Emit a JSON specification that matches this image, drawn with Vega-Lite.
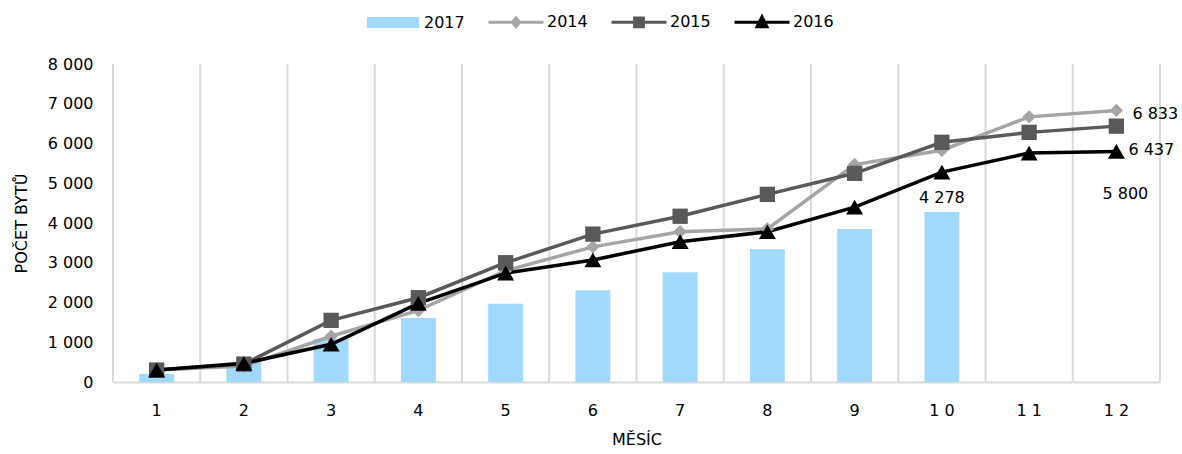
{
  "$schema": "https://vega.github.io/schema/vega-lite/v6.json",
  "width": 1047,
  "height": 318,
  "autosize": {"type": "none"},
  "padding": {"left": 113, "top": 64, "right": 22, "bottom": 72},
  "config": {
    "view": {"stroke": null},
    "font": "DejaVu Sans",
    "locale": {"number": {"decimal": ",", "thousands": " ", "grouping": [3], "currency": ["", " Kč"]}},
    "axisY": {
      "grid": false, "ticks": false, "domain": false,
      "values": [0, 1000, 2000, 3000, 4000, 5000, 6000, 7000, 8000],
      "format": ",d", "labelOverlap": false,
      "labelPadding": 20, "labelFontSize": 16, "labelColor": "#000",
      "titleFontSize": 16, "titleFontWeight": "normal", "titleColor": "#000", "titlePadding": 18
    }
  },
  "data": {
    "values": [
      {"month": 1, "series": "2017", "value": 200},
      {"month": 2, "series": "2017", "value": 500},
      {"month": 3, "series": "2017", "value": 1080},
      {"month": 4, "series": "2017", "value": 1610},
      {"month": 5, "series": "2017", "value": 1970},
      {"month": 6, "series": "2017", "value": 2310},
      {"month": 7, "series": "2017", "value": 2760},
      {"month": 8, "series": "2017", "value": 3340},
      {"month": 9, "series": "2017", "value": 3850},
      {"month": 10, "series": "2017", "value": 4278},
      {"month": 1, "series": "2014", "value": 300},
      {"month": 2, "series": "2014", "value": 400},
      {"month": 3, "series": "2014", "value": 1150},
      {"month": 4, "series": "2014", "value": 1800},
      {"month": 5, "series": "2014", "value": 2800},
      {"month": 6, "series": "2014", "value": 3400},
      {"month": 7, "series": "2014", "value": 3780},
      {"month": 8, "series": "2014", "value": 3850},
      {"month": 9, "series": "2014", "value": 5470},
      {"month": 10, "series": "2014", "value": 5830},
      {"month": 11, "series": "2014", "value": 6670},
      {"month": 12, "series": "2014", "value": 6833},
      {"month": 1, "series": "2015", "value": 300},
      {"month": 2, "series": "2015", "value": 450},
      {"month": 3, "series": "2015", "value": 1550},
      {"month": 4, "series": "2015", "value": 2120},
      {"month": 5, "series": "2015", "value": 3000},
      {"month": 6, "series": "2015", "value": 3720},
      {"month": 7, "series": "2015", "value": 4170},
      {"month": 8, "series": "2015", "value": 4720},
      {"month": 9, "series": "2015", "value": 5250},
      {"month": 10, "series": "2015", "value": 6030},
      {"month": 11, "series": "2015", "value": 6280},
      {"month": 12, "series": "2015", "value": 6437},
      {"month": 1, "series": "2016", "value": 300},
      {"month": 2, "series": "2016", "value": 470},
      {"month": 3, "series": "2016", "value": 950},
      {"month": 4, "series": "2016", "value": 1980},
      {"month": 5, "series": "2016", "value": 2740},
      {"month": 6, "series": "2016", "value": 3070},
      {"month": 7, "series": "2016", "value": 3530},
      {"month": 8, "series": "2016", "value": 3780},
      {"month": 9, "series": "2016", "value": 4400},
      {"month": 10, "series": "2016", "value": 5280},
      {"month": 11, "series": "2016", "value": 5760},
      {"month": 12, "series": "2016", "value": 5800}
    ]
  },
  "layer": [
    {
      "transform": [{"filter": "datum.series === '2014'"}],
      "mark": {"type": "rule", "color": "#d9d9d9", "strokeWidth": 2},
      "encoding": {
        "x": {
          "field": "month", "type": "ordinal", "bandPosition": 0,
          "scale": {"paddingInner": 0, "paddingOuter": 0},
          "axis": {
            "title": "MĚSÍC", "labelAngle": 0, "grid": false, "ticks": false,
            "domainColor": "#d9d9d9", "domainWidth": 2,
            "labelPadding": 20, "labelFontSize": 16, "labelColor": "#000",
            "titleFontSize": 16, "titleFontWeight": "normal", "titleColor": "#000", "titlePadding": 13,
            "labelExpr": "length(datum.label) > 1 ? slice(datum.label, 0, 1) + ' ' + slice(datum.label, 1) : datum.label"
          }
        }
      }
    },
    {
      "transform": [{"filter": "datum.series === '2014' && datum.month === 12"}],
      "mark": {"type": "rule", "color": "#d9d9d9", "strokeWidth": 2},
      "encoding": {"x": {"field": "month", "type": "ordinal", "bandPosition": 1}}
    },
    {
      "transform": [{"filter": "datum.series === '2017'"}],
      "mark": {"type": "bar", "width": {"band": 0.4}},
      "encoding": {
        "x": {"field": "month", "type": "ordinal"},
        "y": {"field": "value", "type": "quantitative", "title": "POČET BYTŮ", "scale": {"domain": [0, 8000], "nice": false}},
        "color": {
          "field": "series", "type": "nominal",
          "scale": {"domain": ["2017", "2014", "2015", "2016"], "range": ["#a1d9fc", "#a5a5a5", "#595959", "#000000"]},
          "legend": {
            "orient": "none", "legendX": 251, "legendY": -71, "direction": "horizontal",
            "title": null, "padding": 0, "symbolSize": 3025, "symbolStrokeWidth": 3,
            "labelFontSize": 16, "labelColor": "#000", "labelOffset": 2, "columnPadding": 17,
            "encode": {
              "symbols": {
                "update": {
                  "shape": {"signal": "datum.value === '2017' ? 'M-0.89,-0.145H0.89V0.145H-0.89Z' : datum.value === '2014' ? 'M-1,0H1M-0.13,0L0,-0.16L0.13,0L0,0.16Z' : datum.value === '2015' ? 'M-1,0H1M-0.16,-0.16H0.16V0.16H-0.16Z' : 'M-1,0H1M-0.18,0.16L0,-0.2L0.18,0.16Z'"},
                  "fill": {"scale": "color", "field": "value"},
                  "stroke": {"scale": "color", "field": "value"},
                  "opacity": {"value": 1},
                  "strokeWidth": {"value": 3}
                }
              }
            }
          }
        }
      }
    },
    {
      "transform": [{"filter": "datum.series !== '2017'"}],
      "mark": {"type": "line", "strokeWidth": 3.5},
      "encoding": {
        "x": {"field": "month", "type": "ordinal"},
        "y": {"field": "value", "type": "quantitative", "title": "POČET BYTŮ"},
        "color": {"field": "series", "type": "nominal"}
      }
    },
    {
      "transform": [{"filter": "datum.series !== '2017'"}],
      "mark": {"type": "point", "filled": true, "opacity": 1},
      "encoding": {
        "x": {"field": "month", "type": "ordinal"},
        "y": {"field": "value", "type": "quantitative", "title": "POČET BYTŮ"},
        "color": {"field": "series", "type": "nominal"},
        "shape": {"field": "series", "type": "nominal", "scale": {"domain": ["2014", "2015", "2016"], "range": ["diamond", "square", "triangle-up"]}, "legend": null},
        "size": {"field": "series", "type": "nominal", "scale": {"domain": ["2014", "2015", "2016"], "range": [180, 289, 324]}, "legend": null}
      }
    },
    {
      "transform": [{"filter": "datum.series === '2017' && datum.month === 10"}],
      "mark": {"type": "text", "fontSize": 16, "color": "#000", "align": "center", "baseline": "middle", "dy": -14},
      "encoding": {
        "x": {"field": "month", "type": "ordinal"},
        "y": {"field": "value", "type": "quantitative", "title": "POČET BYTŮ"},
        "text": {"field": "value", "type": "quantitative", "format": ","}
      }
    },
    {
      "transform": [{"filter": "datum.series === '2014' && datum.month === 12"}],
      "mark": {"type": "text", "fontSize": 16, "color": "#000", "align": "left", "baseline": "middle", "dx": 16, "dy": 4},
      "encoding": {
        "x": {"field": "month", "type": "ordinal"},
        "y": {"field": "value", "type": "quantitative", "title": "POČET BYTŮ"},
        "text": {"field": "value", "type": "quantitative", "format": ","}
      }
    },
    {
      "transform": [{"filter": "datum.series === '2015' && datum.month === 12"}],
      "mark": {"type": "text", "fontSize": 16, "color": "#000", "align": "left", "baseline": "middle", "dx": 12, "dy": 24},
      "encoding": {
        "x": {"field": "month", "type": "ordinal"},
        "y": {"field": "value", "type": "quantitative", "title": "POČET BYTŮ"},
        "text": {"field": "value", "type": "quantitative", "format": ","}
      }
    },
    {
      "transform": [{"filter": "datum.series === '2016' && datum.month === 12"}],
      "mark": {"type": "text", "fontSize": 16, "color": "#000", "align": "center", "baseline": "middle", "dx": 9, "dy": 43},
      "encoding": {
        "x": {"field": "month", "type": "ordinal"},
        "y": {"field": "value", "type": "quantitative", "title": "POČET BYTŮ"},
        "text": {"field": "value", "type": "quantitative", "format": ","}
      }
    }
  ]
}
